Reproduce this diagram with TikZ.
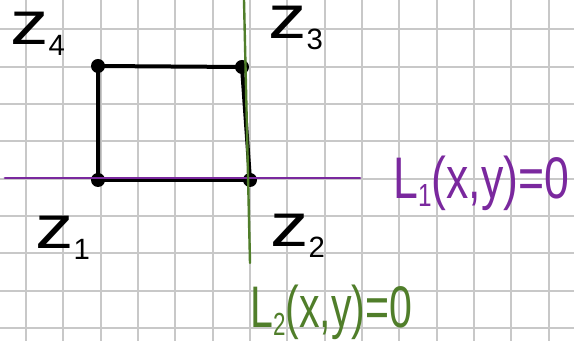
\documentclass[tikz,border=0pt]{standalone}
\usepackage{fontspec}
\setmainfont{Liberation Sans}

\definecolor{penpurple}{RGB}{122,40,158}
\definecolor{pengreen}{RGB}{80,126,42}
\definecolor{gridgray}{RGB}{200,200,200}

\newcommand{\zlab}[1]{\scalebox{1.25}[1]{\fontsize{46}{46}\selectfont z}\raisebox{-8pt}{\fontsize{22}{22}\selectfont #1}}
\newcommand{\llab}[2]{\scalebox{#2}[1]{\fontsize{44}{44}\selectfont L\raisebox{-6pt}{\fontsize{24}{24}\selectfont #1}(x,y)=0}}

\begin{document}
\begin{tikzpicture}[
            x=0.75pt, y=-0.75pt,
            gridline/.style={draw=gridgray, line width=1.5pt},
            corner/.style={circle, fill=black, minimum size=10.5pt, inner sep=0pt, outer sep=0pt},
            side/.style={draw=black, line width=3pt, line cap=round},
            zlabel/.style={anchor=base west, inner sep=0pt},
            lineone/.style={draw=penpurple, line width=2.2pt, line cap=round},
            linetwo/.style={draw=pengreen, line width=1.8pt, line cap=round}
        ]
            \useasboundingbox (0,0) rectangle (574,341);
            % grid spacing
            \def\gs{37.33}

            % grid
            \foreach \i in {0,...,14} {
                \draw[gridline] ({26+\i*\gs}, 0) -- ({26+\i*\gs}, 341);
            }
            \foreach \j in {0,...,8} {
                \draw[gridline] (0, {29.3+\j*\gs}) -- (574, {29.3+\j*\gs});
            }

            % corners
            \node[corner] (z1) at (98, 180) {};
            \node[corner] (z2) at (250, 180) {};
            \node[corner] (z3) at (242, 67) {};
            \node[corner] (z4) at (98, 66) {};
            \draw[side] (z1.center) -- (z2.center) -- (z3.center) -- (z4.center) -- cycle;

            % lines
            \coordinate (l1a) at (5, 178);
            \coordinate (l1b) at (360, 178);
            \coordinate (l2a) at (244, 0);
            \coordinate (l2b) at (250, 263);
            \draw[lineone] (l1a) -- (l1b);
            \draw[linetwo] (l2a) -- (l2b);

            % labels
            \node[zlabel] (lz1) at (35, 249) {\zlab{1}};
            \node[zlabel] (lz2) at (270, 247) {\zlab{2}};
            \node[zlabel] (lz3) at (268, 39) {\zlab{3}};
            \node[zlabel] (lz4) at (10, 45) {\zlab{4}};
            \node[zlabel, text=penpurple] (ll1) at (393, 199) {\llab{1}{0.76}};
            \node[zlabel, text=pengreen] (ll2) at (250, 328) {\llab{2}{0.7}};
        \end{tikzpicture}
\end{document}
